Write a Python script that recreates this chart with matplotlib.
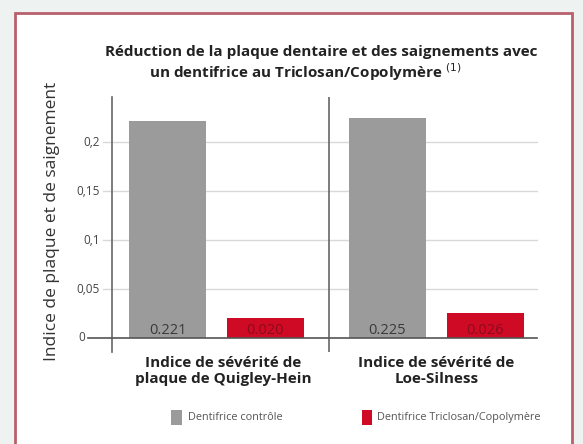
import matplotlib
matplotlib.use("Agg")
import matplotlib.pyplot as plt
from matplotlib.patches import Rectangle
import numpy as np

categories = ["Indice de sévérité de\nplaque de Quigley-Hein", "Indice de sévérité de\nLoe-Silness"]
series_names = ["Dentifrice contrôle", "Dentifrice Triclosan/Copolymère"]
control_values = [0.221, 0.225]
triclosan_values = [0.020, 0.026]
control_labels = ["0.221", "0.225"]
triclosan_labels = ["0.020", "0.026"]
yticks = [0, 0.05, 0.1, 0.15, 0.2]
ytick_labels = ["0", "0,05", "0,1", "0,15", "0,2"]
title_lines = ["Réduction de la plaque dentaire et des saignements avec",
               "un dentifrice au Triclosan/Copolymère $^{(1)}$"]
ylabel = "Indice de plaque et de saignement"

FONT = "Open Sans"
plt.rcParams['font.family'] = [FONT, 'DejaVu Sans']

W, H = 583, 444
fig = plt.figure(figsize=(W/100, H/100), dpi=100)
fig.patch.set_facecolor("#eef3f1")

def px(x, y):
    return x / W, 1 - y / H

# outer frame
frame = Rectangle(px(15, 470), (572-15)/W, (470-13)/H, transform=fig.transFigure,
                  facecolor="white", edgecolor="#b8606c", linewidth=2, zorder=-5)
fig.patches.append(frame)

ax_l, ax_r, ax_t, ax_b = 112, 537, 97, 352
axw = ax_r - ax_l
ax = fig.add_axes([ax_l/W, 1-ax_b/H, axw/W, (ax_b-ax_t)/H])
ax.set_zorder(2)
ax.set_facecolor("none")
ax.set_xlim(-0.475, 1.457)
ax.set_ylim(-0.0143, 0.246)

grey = "#9b9b9b"
red = "#cf0a25"
x = np.arange(len(categories))
off, wid = 0.2227, 0.35
b1 = ax.bar(x - off, control_values, wid, color=grey, zorder=3)
b2 = ax.bar(x + off, triclosan_values, wid, color=red, zorder=3)

for xi, lab in zip(x - off, control_labels):
    ax.text(xi, 0.0075, lab, ha="center", va="center", fontsize=10.5, color="#3a3a3a", zorder=4)
for xi, lab in zip(x + off, triclosan_labels):
    ax.text(xi, 0.0075, lab, ha="center", va="center", fontsize=10.5, color="#8c0a1c", zorder=4)

# gridlines + tick labels
ytr = ax.get_yaxis_transform()
grid_start = -9 / axw
zero_start = -24 / axw
for yv in yticks[1:]:
    ax.plot([grid_start, 1], [yv, yv], transform=ytr, color="#d9d9d9", lw=1, clip_on=False, zorder=1)
ax.plot([zero_start, 1], [0, 0], transform=ytr, color="#555555", lw=1.2, clip_on=False, zorder=5)

ax.set_yticks(yticks)
ax.set_yticklabels([])
ax.tick_params(axis="y", length=0)
for yv, lab in zip(yticks, ytick_labels):
    start = zero_start if yv == 0 else grid_start
    ax.text(start - 3 / axw, yv, lab, transform=ytr, ha="right", va="center",
            fontsize=8.5, color="#444444", clip_on=False)
ax.set_xticks([])

for s in ["top", "right", "bottom"]:
    ax.spines[s].set_visible(False)
ax.spines["left"].set_color("#666666")
ax.spines["left"].set_linewidth(1.2)
ax.axvline(0.511, color="#666666", lw=1.2, zorder=2)

xtr = ax.get_xaxis_transform()
for xi, cat in zip([0.03, 1.0], categories):
    ax.text(xi, -0.0745, cat, transform=xtr, ha="center", va="center", fontsize=11,
            fontweight="bold", color="#222222", linespacing=1.15)

fig.text(*px(321, 52), title_lines[0], ha="center", va="center", fontsize=11, fontweight="bold",
         color="#222222")
fig.text(*px(305, 72), title_lines[1], ha="center", va="center", fontsize=11, fontweight="bold",
         color="#222222")
fig.text(*px(52, 221), ylabel, ha="center", va="center", rotation=90, fontsize=12.5, color="#333333")

# legend
for (x0, x1), c, name, tx in [((171, 182), grey, series_names[0], 188), ((362, 372), red, series_names[1], 377)]:
    fig.patches.append(Rectangle(px(x0, 425), (x1-x0)/W, 15/H, transform=fig.transFigure,
                                 facecolor=c, edgecolor="none"))
    fig.text(*px(tx, 417.5), name, ha="left", va="center", fontsize=7.8, color="#555555")

fig.savefig("out.png", dpi=100, facecolor=fig.get_facecolor())
